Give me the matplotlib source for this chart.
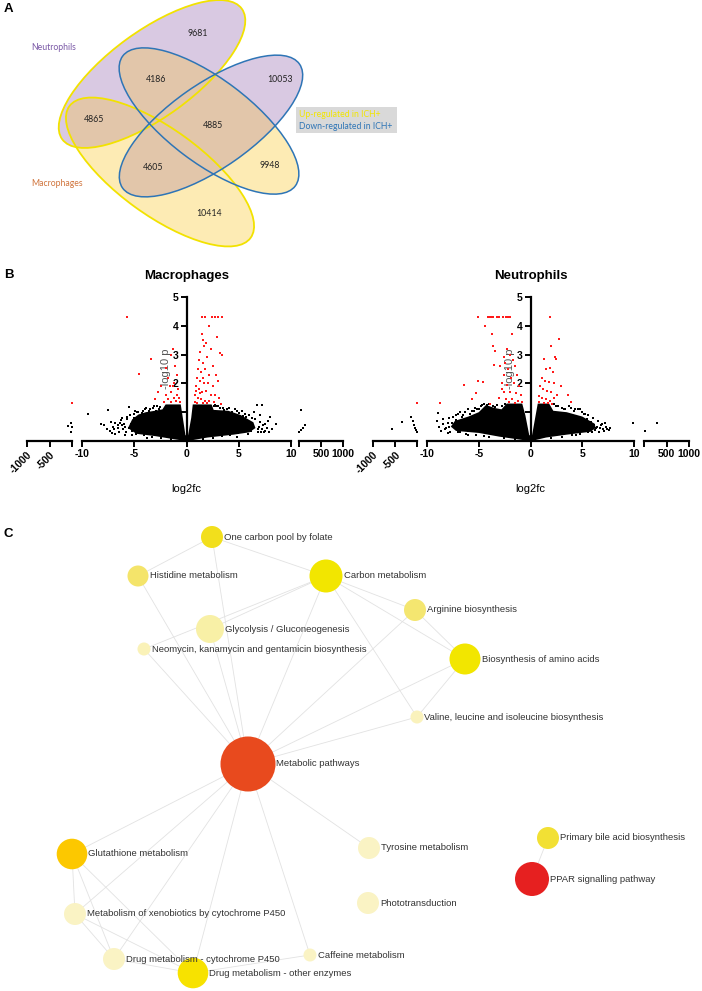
import matplotlib
matplotlib.use("Agg")
import matplotlib.pyplot as plt
from matplotlib.patches import Ellipse, Rectangle, Circle

plt.rcParams['font.family'] = ['Liberation Sans', 'DejaVu Sans']

W, H = 702, 991

# ---------------- panel A data ----------------
venn_counts = [9681, 4186, 10053, 4865, 4885, 4605, 9948, 10414]
venn_set_names = ['Neutrophils', 'Macrophages']
venn_legend = ['Up-regulated in ICH+', 'Down-regulated in ICH+']

# ---------------- panel B data ----------------
# dense part of each cloud, as an outline (log2fc, -log10 p)
mac_cloud_x = [-0.1, -1.5, -3.0, -4.8, -5.6, -5.2, -4.6, -3.9, -3.0, -2.3, -2.0, -0.55, -0.35, -0.1,
               0.15, 0.45, 0.6, 2.4, 2.6, 4.0, 5.2, 6.4, 6.6, 6.0, 4.5, 2.0, 0.1]
mac_cloud_y = [0.0, 0.08, 0.17, 0.25, 0.45, 0.75, 0.92, 1.0, 1.05, 1.1, 1.27, 1.27, 0.8, 0.2,
               0.2, 0.8, 1.27, 1.27, 1.08, 1.05, 0.9, 0.65, 0.45, 0.3, 0.22, 0.12, 0.0]
mac_red_x = [-5.7, -1.3, -3.35, -4.55, -1.5, -1.1, -2.0, -1.8, -2.4, -1.6, -0.9, -1.2, -2.0, -1.5,
             -0.8, -1.8, -1.2, -0.7, -2.2, -1.5, -1.0, -0.6, -3.0, -2.7, -1.3, -0.9,
             1.5, 1.8, 2.4, 2.7, 3.0, 3.4, 2.2, 2.9, 3.25, 3.4, 1.5, 1.6, 1.7, 1.3, 1.9, 2.3,
             1.2, 1.6, 2.0, 2.5, 1.1, 1.4, 1.8, 2.2, 2.8, 3.0, 1.0, 1.3, 1.7, 2.1, 2.5, 0.9,
             1.2, 1.5, 1.9, 2.3, 2.7, 3.1, 0.8, 1.1, 1.4, 1.8, 2.2, 0.8, 1.0, 1.6, 2.0, 2.6,
             3.3, 1.3, 0.95, 1.6]
mac_red_y = [4.3, 3.2, 2.85, 2.33, 3.0, 2.6, 2.55, 2.2, 1.9, 1.9, 2.3, 2.0, 1.6, 1.7,
             1.8, 1.45, 1.5, 1.5, 1.35, 1.35, 1.4, 1.35, 1.45, 1.7, 1.9, 1.6,
             4.3, 4.3, 4.3, 4.3, 4.3, 4.3, 4.0, 3.6, 3.05, 3.0, 3.7, 3.5, 3.3, 3.1, 3.4, 3.2,
             2.8, 2.7, 2.9, 2.6, 2.5, 2.4, 2.5, 2.3, 2.3, 2.1, 2.2, 2.1, 2.0, 2.0, 1.9, 1.9,
             1.8, 1.7, 1.75, 1.6, 1.6, 1.5, 1.6, 1.5, 1.45, 1.4, 1.4, 1.35, 1.32, 1.33, 1.32, 1.35,
             1.3, 1.65, 1.75, 2.2]
mac_black_x = [-9.4, -7.5, -5.5, -8.2, -7.9, -7.2, -6.9, -6.6, -6.2, -5.9, -5.0, -4.6, -4.0, -3.2,
               -2.8, -6.8, -5.2, -3.8, -7.6, -6.4, -5.7, -4.9, -4.3, -3.6, -2.6,
               -7.3, -7.0, -6.8, -6.5, -6.3, -6.1, -6.0, -5.8, -5.7, -5.5, -5.4, -5.2, -5.0, -4.9,
               -4.7, -4.4, -4.2, -3.9, -3.5, -3.1, -2.9, -2.5, -7.1, -6.6, -6.2, -5.9, -5.3, -4.8,
               -4.1, -3.3, -2.4, -1.5,
               6.7, 7.2, 8.6, 7.0, 6.5, 5.6, 4.8, 3.9, 3.2, 7.5, 7.8, 6.8, 7.1, 7.4, 5.9, 4.8,
               6.1, 5.2, 2.8, 8.0, 6.3, 5.4, 4.4, 3.6, 2.6, 7.7,
               4.6, 5.0, 5.3, 5.7, 6.0, 6.3, 6.6, 6.9, 7.2, 7.5, 7.0, 6.2, 5.8, 5.4, 4.9, 4.2,
               3.4, 2.5, 1.6, 3.0, 3.5, 4.1, 2.7, 6.8, 7.3, 7.9, 8.2]
mac_black_y = [0.93, 1.09, 1.17, 0.6, 0.55, 0.65, 0.4, 0.55, 0.8, 0.5, 0.95, 1.0, 1.1, 1.15,
               1.2, 0.25, 0.2, 0.12, 0.42, 0.62, 0.85, 1.05, 0.98, 1.05, 1.12,
               0.35, 0.5, 0.62, 0.3, 0.72, 0.4, 0.6, 0.3, 0.75, 0.45, 0.9, 0.35, 0.8, 0.6,
               1.0, 0.9, 1.05, 1.15, 1.1, 1.2, 1.05, 1.18, 0.28, 0.45, 0.55, 0.22, 0.6, 0.25,
               0.2, 0.15, 0.1, 0.06,
               1.25, 1.25, 0.59, 0.9, 1.0, 0.95, 1.05, 1.1, 1.15, 0.6, 0.7, 0.3, 0.32, 0.3, 0.25, 0.15,
               0.5, 0.6, 1.2, 0.85, 0.8, 0.88, 1.02, 1.08, 1.22, 0.45,
               1.12, 0.98, 1.05, 0.82, 0.9, 0.62, 0.75, 0.5, 0.42, 0.35, 0.65, 0.35, 0.45, 0.3,
               0.28, 0.2, 0.16, 0.12, 0.07, 1.2, 1.16, 1.15, 1.25, 0.4, 0.55, 0.3, 0.42]
mac_left_x = [-102, -50, -28, -43]
mac_left_y = [0.52, 0.61, 0.47, 0.31]
mac_left_red_x = [-28]
mac_left_red_y = [1.32]
mac_right_x = [10, 45, 98, 136, 45]
mac_right_y = [0.31, 0.39, 0.45, 0.57, 1.08]

neu_cloud_x = [-0.1, -3.0, -5.0, -7.2, -7.7, -7.3, -6.0, -5.0, -4.3, -3.5, -2.8, -2.3, -0.8, -0.5,
               -0.12, 0.15, 0.5, 0.7, 1.8, 2.2, 3.5, 5.0, 6.2, 6.3, 5.8, 3.5, 1.5, 0.1]
neu_cloud_y = [0.0, 0.15, 0.28, 0.35, 0.5, 0.7, 0.85, 1.0, 1.25, 1.15, 1.1, 1.3, 1.3, 0.9,
               0.2, 0.2, 0.9, 1.3, 1.3, 1.05, 1.0, 0.85, 0.6, 0.45, 0.32, 0.22, 0.12, 0.0]
neu_red_x = [-5.07, -4.1, -3.95, -3.8, -3.6, -3.2, -3.0, -2.7, -2.4, -2.2, -1.95, 1.9,
             -4.4, -3.7, -1.83, -3.6, -3.4, -3.57, -5.1, -4.6, -6.46, -5.3, -5.7, -8.7, -3.9,
             -2.3, -2.0, -2.6, -1.7, -2.9, -2.2, -1.5, -2.6, -1.9, -1.3, -2.8, -2.3, -1.6, -1.1,
             -2.6, -2.0, -1.4, -0.9, -2.4, -1.8, -1.2, -0.8, -2.1, -1.5, -3.0, -2.75, -2.45,
             2.0, 2.77, 2.38, 2.45, 1.26, 3.64, 3.9, 1.5, 1.9, 2.2, 1.1, 1.4, 1.8, 2.3, 0.9,
             1.2, 1.6, 2.0, 0.85, 1.1, 1.5, 1.9, 2.3, 0.8, 1.3, 1.7, 2.1, 2.6, 2.9]
neu_red_y = [4.3, 4.3, 4.3, 4.3, 4.3, 4.3, 4.3, 4.3, 4.3, 4.3, 4.3, 4.3,
             4.0, 3.7, 3.7, 3.3, 3.14, 2.65, 2.08, 2.04, 1.93, 1.66, 1.45, 1.32, 1.3,
             3.2, 3.0, 2.9, 2.8, 2.6, 2.5, 2.6, 2.3, 2.2, 2.3, 2.0, 1.95, 2.0, 1.9,
             1.7, 1.7, 1.65, 1.6, 1.45, 1.45, 1.4, 1.35, 1.35, 1.32, 1.5, 1.8, 2.7,
             3.3, 3.53, 2.92, 2.86, 2.86, 1.61, 1.35, 2.5, 2.55, 2.4, 2.2, 2.1, 2.05, 2.0, 1.9,
             1.8, 1.75, 1.7, 1.55, 1.5, 1.45, 1.4, 1.5, 1.35, 1.32, 1.33, 1.3, 1.6, 1.9]
neu_black_x = [-8.9, -9.0, -8.5, -8.2, -7.9, -7.2, -6.8, -6.0, -5.5, -4.8, -7.0, -6.0, -4.5,
               -8.6, -7.6, -6.6, -5.8, -5.2, -4.2, -3.4,
               -8.8, -8.5, -8.3, -8.0, -7.8, -7.5, -7.3, -7.0, -6.8, -6.5, -6.3, -6.0, -5.7, -5.4,
               -5.0, -4.7, -4.5, -4.0, -3.6, -3.2, -2.8, -2.5, -7.9, -6.2, -5.3, -4.0, -2.6, -1.5,
               -8.0, -7.2,
               9.9, 7.3, 7.0, 6.8, 7.6, 6.5, 5.6, 5.0, 4.6, 3.9, 3.0, 2.5, 5.9, 6.3, 4.4,
               7.2, 6.0, 5.3, 4.2, 3.3,
               5.2, 5.5, 5.8, 6.1, 6.4, 6.7, 7.1, 7.4, 6.9, 6.6, 6.2, 5.6, 4.8, 4.0, 3.0, 2.0,
               4.8, 4.3, 3.7, 3.2, 2.7, 2.3, 7.7]
neu_black_y = [0.97, 0.7, 0.6, 0.45, 0.8, 0.9, 1.0, 1.1, 1.05, 1.2, 0.3, 0.22, 0.18,
               0.35, 0.62, 0.85, 0.95, 1.12, 1.25, 1.18,
               0.5, 0.75, 0.4, 0.62, 0.32, 0.85, 0.5, 0.95, 0.3, 0.9, 1.0, 0.35, 1.05, 1.15,
               1.1, 1.25, 1.3, 1.3, 1.22, 1.25, 1.2, 1.28, 0.5, 0.25, 0.22, 0.15, 0.1, 0.06,
               0.28, 0.72,
               0.63, 0.5, 0.42, 0.55, 0.38, 0.7, 0.9, 1.0, 1.1, 1.15, 1.15, 1.2, 0.3, 0.45, 0.2,
               0.62, 0.8, 0.95, 1.05, 1.12,
               0.95, 0.75, 0.65, 0.55, 0.5, 0.45, 0.35, 0.4, 0.6, 0.3, 0.38, 0.3, 0.25, 0.2, 0.15, 0.1,
               1.1, 1.12, 1.2, 1.1, 1.22, 1.28, 0.45]
neu_left_x = [-575, -348, -143, -100, -80, -60, -45, -30]
neu_left_y = [0.4, 0.66, 0.83, 0.7, 0.55, 0.45, 0.38, 0.3]
neu_left_red_x = [-28]
neu_left_red_y = [1.32]
neu_right_x = [20, 290]
neu_right_y = [0.33, 0.63]

# ---------------- panel C data ----------------
pathways = ['One carbon pool by folate', 'Histidine metabolism', 'Carbon metabolism',
            'Glycolysis / Gluconeogenesis', 'Neomycin, kanamycin and gentamicin biosynthesis',
            'Arginine biosynthesis', 'Biosynthesis of amino acids',
            'Valine, leucine and isoleucine biosynthesis', 'Metabolic pathways',
            'Glutathione metabolism', 'Metabolism of xenobiotics by cytochrome P450',
            'Drug metabolism - cytochrome P450', 'Drug metabolism - other enzymes',
            'Caffeine metabolism', 'Tyrosine metabolism', 'Phototransduction',
            'Primary bile acid biosynthesis', 'PPAR signalling pathway']
pathway_links = [(0, 1), (0, 2), (0, 8), (1, 8), (2, 3), (2, 4), (2, 8), (2, 5), (2, 6), (2, 7),
                 (5, 6), (5, 8), (6, 7), (6, 8), (7, 8), (3, 8), (4, 8),
                 (8, 9), (8, 10), (8, 11), (8, 12), (8, 13), (8, 14),
                 (9, 10), (9, 11), (9, 12), (10, 11), (10, 12), (11, 12), (12, 13), (16, 17)]

# node layout (pixels), radius and colour
node_xy = [(212, 537), (138, 576), (326, 576), (210, 629), (144, 649), (415, 610), (465, 659),
           (417, 717), (248, 764), (72, 854), (75, 914), (114, 959), (193, 973), (310, 955),
           (369, 848), (368, 903), (548, 838), (532, 879)]
node_r = [11, 10.5, 16.5, 14, 6.5, 11, 15.5, 6.5, 27.5, 15.3, 11, 11, 15.3, 6.5, 11, 11, 11, 17]
node_col = ['#f2df1c', '#f4e46a', '#f2e600', '#f8f0a6', '#faf2b8', '#f4e670', '#f2e600',
            '#faf2bc', '#e84a1e', '#fcc800', '#faf3c4', '#faf3c4', '#f7e200', '#faf3c4',
            '#faf3c4', '#faf3c4', '#f2e034', '#e62020']

fig = plt.figure(figsize=(W / 100, H / 100), dpi=100)
bg = fig.add_axes([0, 0, 1, 1])
bg.set_xlim(0, W)
bg.set_ylim(H, 0)
bg.axis('off')

for lab, y in [('A', 9), ('B', 275), ('C', 534)]:
    bg.text(4, y, lab, fontsize=9.5, fontweight='bold', va='center', ha='left')

# ---------------- Venn ----------------
purple, yellow, brown = '#d9c9e2', '#fdebb4', '#e2c6aa'
ell_y1 = dict(xy=(152, 74), width=222, height=86, angle=-36)   # neutrophils up
ell_y2 = dict(xy=(160, 172), width=224, height=86, angle=36)   # macrophages up
ell_b1 = dict(xy=(209, 121), width=216, height=84, angle=37)   # macrophages down
ell_b2 = dict(xy=(211, 126), width=216, height=84, angle=-35)  # neutrophils down
yel_fill = [ell_y2, ell_b1]
pur_fill = [ell_y1, ell_b2]
for e in yel_fill:
    bg.add_patch(Ellipse(**e, facecolor=yellow, edgecolor='none'))
for e in pur_fill:
    bg.add_patch(Ellipse(**e, facecolor=purple, edgecolor='none'))
for p in pur_fill:
    for q in yel_fill:
        clip = Ellipse(**q, transform=bg.transData)
        patch = Ellipse(**p, facecolor=brown, edgecolor='none')
        bg.add_patch(patch)
        patch.set_clip_path(clip)
for e in [ell_y1, ell_y2]:
    bg.add_patch(Ellipse(**e, facecolor='none', edgecolor='#f2e200', lw=1.3))
for e in [ell_b1, ell_b2]:
    bg.add_patch(Ellipse(**e, facecolor='none', edgecolor='#2e75b6', lw=1.1))

count_pos = [(198, 34), (156, 79), (280, 79), (94, 120), (213, 126), (153, 168), (270, 166), (209, 213)]
for n, (x, y) in zip(venn_counts, count_pos):
    bg.text(x, y, str(n), fontsize=6.3, family='Lato', ha='center', va='center', color='#222222')

bg.text(31, 48, venn_set_names[0], fontsize=6.2, family='Lato', color='#7a58a6', va='center')
bg.text(31, 183, venn_set_names[1], fontsize=6.2, family='Lato', color='#d0743c', va='center')
bg.add_patch(Rectangle((296, 107), 101, 26, facecolor='#d9d9d9', edgecolor='none'))
bg.text(299, 114.5, venn_legend[0], fontsize=6.2, family='Lato', color='#f2e600', va='center')
bg.text(299, 126.5, venn_legend[1], fontsize=6.2, family='Lato', color='#2e75b6', va='center')


# ---------------- volcano plots ----------------
def px_axes(x0, y0, x1, y1):
    a = fig.add_axes([x0 / W, 1 - y1 / H, (x1 - x0) / W, (y1 - y0) / H])
    a.patch.set_alpha(0)
    return a


def style_bottom(a):
    for s in ['top', 'right', 'left']:
        a.spines[s].set_visible(False)
    a.spines['bottom'].set_linewidth(1.6)
    a.tick_params(axis='x', width=1.4, length=4, labelsize=7.5, pad=2)
    a.set_yticks([])
    a.set_ylim(0, 5)


def volcano(title, seg, cloud, red, black, left, left_red, right):
    x_left0, x_left1, x0, x1, x_right0, x_right1 = seg
    top, bot = 297, 441
    ax = px_axes(x0, top, x1, bot)
    ax.set_xlim(-10, 10)
    ax.set_ylim(0, 5)
    ax.spines['top'].set_visible(False)
    ax.spines['right'].set_visible(False)
    ax.spines['left'].set_position(('data', 0))
    ax.spines['left'].set_linewidth(1.6)
    ax.spines['bottom'].set_linewidth(1.6)
    ax.set_xticks([-10, -5, 0, 5, 10])
    ax.set_xticklabels(['-10', '-5', '0', '5', '10'], fontweight='bold')
    ax.set_yticks([0, 1, 2, 3, 4, 5])
    ax.set_yticklabels(['', '1', '2', '3', '4', '5'], fontweight='bold')
    ax.tick_params(width=1.4, length=4, labelsize=7.5, pad=2)
    ax.text(-2.0, 2.5, '-log10 p', rotation=90, fontsize=8, color='#555555',
            ha='center', va='center', zorder=4)
    ax.fill(cloud[0], cloud[1], color='black', lw=0, zorder=5, clip_on=False)
    ax.scatter(black[0], black[1], s=1.8, c='black', marker='s', lw=0, zorder=5, clip_on=False)
    ax.scatter(red[0], red[1], s=2.2, c='#ff1a1a', marker='s', lw=0, zorder=6, clip_on=False)

    cx = (x0 + x1) / 2
    fig.text(cx / W, 1 - 276 / H, title, fontsize=9.5, fontweight='bold', ha='center', va='center')
    fig.text(cx / W, 1 - 489 / H, 'log2fc', fontsize=8, ha='center', va='center')

    axl = px_axes(x_left0, top, x_left1, bot)
    axl.set_xlim(-1000, -20)
    style_bottom(axl)
    axl.set_xticks([-1000, -500, -20])
    axl.set_xticklabels(['-1000', '-500', ''], rotation=45, ha='right', va='top',
                        rotation_mode='anchor', fontweight='bold')
    axl.scatter(left[0], left[1], s=1.8, c='black', marker='s', lw=0, clip_on=False)
    axl.scatter(left_red[0], left_red[1], s=2.2, c='#ff1a1a', marker='s', lw=0, clip_on=False)

    axr = px_axes(x_right0, top, x_right1, bot)
    axr.set_xlim(0, 1000)
    style_bottom(axr)
    axr.set_xticks([0, 500, 1000])
    axr.set_xticklabels(['', '500', '1000'], fontweight='bold')
    axr.scatter(right[0], right[1], s=1.8, c='black', marker='s', lw=0, clip_on=False)


volcano('Macrophages', (27, 72, 82, 291, 299, 343),
        (mac_cloud_x, mac_cloud_y), (mac_red_x, mac_red_y), (mac_black_x, mac_black_y),
        (mac_left_x, mac_left_y), (mac_left_red_x, mac_left_red_y), (mac_right_x, mac_right_y))
volcano('Neutrophils', (373, 417, 427, 634, 644, 689),
        (neu_cloud_x, neu_cloud_y), (neu_red_x, neu_red_y), (neu_black_x, neu_black_y),
        (neu_left_x, neu_left_y), (neu_left_red_x, neu_left_red_y), (neu_right_x, neu_right_y))

# ---------------- network ----------------
for i, j in pathway_links:
    (xa, ya), (xb, yb) = node_xy[i], node_xy[j]
    bg.plot([xa, xb], [ya, yb], color='#e2e2e2', lw=0.6, zorder=1)
for name, (x, y), r, c in zip(pathways, node_xy, node_r, node_col):
    bg.add_patch(Circle((x, y), r, facecolor=c, edgecolor='none', zorder=2))
    bg.text(x + r + 1, y, name, fontsize=6.8, color='#333333', va='center', ha='left', zorder=3)

fig.savefig('out.png', dpi=100)
